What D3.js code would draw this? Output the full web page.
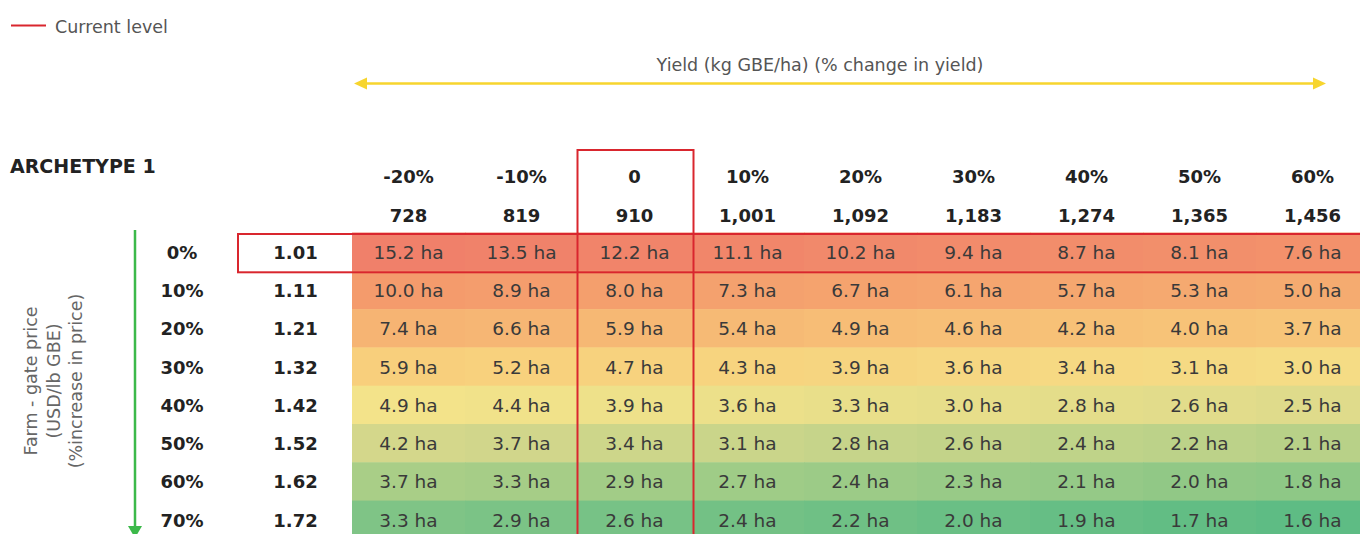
<!DOCTYPE html>
<html>
<head>
<meta charset="utf-8">
<script src="https://cdn.jsdelivr.net/npm/d3@7"></script>
<style>
  body { margin: 0; background: #fff; }
  svg { display: block; font-family: "DejaVu Sans", sans-serif; }
</style>
</head>
<body>
<svg></svg>
<script>
let width = 1360;
let height = 534;

// yield columns
let yieldPct = ['-20%', '-10%', '0', '10%', '20%', '30%', '40%', '50%', '60%'];
let yieldKg = [728, 819, 910, 1001, 1092, 1183, 1274, 1365, 1456];

// price rows
let pricePct = ['0%', '10%', '20%', '30%', '40%', '50%', '60%', '70%'];
let price = [1.01, 1.11, 1.21, 1.32, 1.42, 1.52, 1.62, 1.72];

// hectares needed
let area = [
  [15.2, 13.5, 12.2, 11.1, 10.2, 9.4, 8.7, 8.1, 7.6],
  [10.0, 8.9, 8.0, 7.3, 6.7, 6.1, 5.7, 5.3, 5.0],
  [7.4, 6.6, 5.9, 5.4, 4.9, 4.6, 4.2, 4.0, 3.7],
  [5.9, 5.2, 4.7, 4.3, 3.9, 3.6, 3.4, 3.1, 3.0],
  [4.9, 4.4, 3.9, 3.6, 3.3, 3.0, 2.8, 2.6, 2.5],
  [4.2, 3.7, 3.4, 3.1, 2.8, 2.6, 2.4, 2.2, 2.1],
  [3.7, 3.3, 2.9, 2.7, 2.4, 2.3, 2.1, 2.0, 1.8],
  [3.3, 2.9, 2.6, 2.4, 2.2, 2.0, 1.9, 1.7, 1.6]
];

let currentCol = 2;
let currentRow = 0;

let svg = d3.select('svg')
            .attr('width', width)
            .attr('height', height);

let x = d3.scaleBand()
          .domain(d3.range(yieldKg.length))
          .range([352, 352 + 113 * yieldKg.length]);

let y = d3.scaleBand()
          .domain(d3.range(price.length))
          .range([232.5, 232.5 + 38.3 * price.length]);

// colour by position in the grid (red -> yellow -> green)
let colorScale = d3.scaleLinear()
  .domain([0, 1, 2, 3, 4, 5, 6, 7, 7.7])
  .range(['#f0806a', '#f49b6c', '#f6b473', '#f8cf7c', '#f3e38a', '#d4d78b', '#a9ce87', '#7fc486', '#5bbb84'])
  .clamp(true);

let fmt = d3.format(',');

// legend
svg.append('line')
   .attr('x1', 11).attr('x2', 46)
   .attr('y1', 25.5).attr('y2', 25.5)
   .attr('stroke', '#d9262e')
   .attr('stroke-width', 2);
svg.append('text')
   .attr('x', 55).attr('y', 32.5)
   .attr('font-size', 17.5)
   .attr('fill', '#555')
   .text('Current level');

// yield arrow
svg.append('text')
   .attr('x', 820).attr('y', 71)
   .attr('text-anchor', 'middle')
   .attr('font-size', 17.5)
   .attr('fill', '#555')
   .text('Yield (kg GBE/ha) (% change in yield)');

let yellow = '#f7d52e';
svg.append('line')
   .attr('x1', 362).attr('x2', 1318)
   .attr('y1', 83.5).attr('y2', 83.5)
   .attr('stroke', yellow)
   .attr('stroke-width', 2.5);
svg.append('path')
   .attr('d', 'M354,83.5 L367,77.5 L367,89.5 Z')
   .attr('fill', yellow);
svg.append('path')
   .attr('d', 'M1326,83.5 L1313,77.5 L1313,89.5 Z')
   .attr('fill', yellow);

// title
svg.append('text')
   .attr('x', 10).attr('y', 173)
   .attr('font-size', 19)
   .attr('font-weight', 600)
   .attr('fill', '#222')
   .text('ARCHETYPE 1');

// column headers
svg.append('g')
   .selectAll('text')
   .data(yieldPct)
   .enter()
   .append('text')
   .attr('x', (d, i) => x(i) + x.bandwidth() / 2)
   .attr('y', 183)
   .attr('text-anchor', 'middle')
   .attr('font-size', 18)
   .attr('font-weight', 700)
   .attr('fill', '#222')
   .text(d => d);

svg.append('g')
   .selectAll('text')
   .data(yieldKg)
   .enter()
   .append('text')
   .attr('x', (d, i) => x(i) + x.bandwidth() / 2)
   .attr('y', 221.5)
   .attr('text-anchor', 'middle')
   .attr('font-size', 18)
   .attr('font-weight', 700)
   .attr('fill', '#222')
   .text(d => fmt(d));

// row headers
svg.append('g')
   .selectAll('text')
   .data(pricePct)
   .enter()
   .append('text')
   .attr('x', 182)
   .attr('y', (d, i) => y(i) + y.bandwidth() / 2 + 7)
   .attr('text-anchor', 'middle')
   .attr('font-size', 18)
   .attr('font-weight', 700)
   .attr('fill', '#222')
   .text(d => d);

svg.append('g')
   .selectAll('text')
   .data(price)
   .enter()
   .append('text')
   .attr('x', 295.5)
   .attr('y', (d, i) => y(i) + y.bandwidth() / 2 + 7)
   .attr('text-anchor', 'middle')
   .attr('font-size', 18)
   .attr('font-weight', 700)
   .attr('fill', '#222')
   .text(d => d.toFixed(2));

// cells
let cells = [];
area.forEach((row, r) => row.forEach((v, c) => cells.push({r: r, c: c, v: v})));

svg.append('g')
   .selectAll('rect')
   .data(cells)
   .enter()
   .append('rect')
   .attr('x', d => x(d.c))
   .attr('y', d => y(d.r))
   .attr('width', x.bandwidth() + 0.5)
   .attr('height', y.bandwidth() + 0.5)
   .attr('fill', d => colorScale(d.r + d.c * 0.08));

svg.append('g')
   .selectAll('text')
   .data(cells)
   .enter()
   .append('text')
   .attr('x', d => x(d.c) + x.bandwidth() / 2)
   .attr('y', d => y(d.r) + y.bandwidth() / 2 + 7)
   .attr('text-anchor', 'middle')
   .attr('font-size', 18.5)
   .attr('fill', '#3a3a3a')
   .text(d => d.v.toFixed(1) + ' ha');

// current level boxes
svg.append('rect')
   .attr('x', 238)
   .attr('y', y(currentRow) + 1.5)
   .attr('width', 1200)
   .attr('height', y.bandwidth())
   .attr('fill', 'none')
   .attr('stroke', '#d9262e')
   .attr('stroke-width', 2);

svg.append('rect')
   .attr('x', x(currentCol) - 0.5)
   .attr('y', 150)
   .attr('width', x.bandwidth() + 3)
   .attr('height', 420)
   .attr('fill', 'none')
   .attr('stroke', '#d9262e')
   .attr('stroke-width', 2);

// price arrow
let green = '#3cb94a';
svg.append('line')
   .attr('x1', 135).attr('x2', 135)
   .attr('y1', 230).attr('y2', 526)
   .attr('stroke', green)
   .attr('stroke-width', 2.5);
svg.append('path')
   .attr('d', 'M128,526 L142,526 L135,538 Z')
   .attr('fill', green);

// rotated axis label
let ylab = svg.append('text')
   .attr('transform', 'translate(37,381) rotate(-90)')
   .attr('text-anchor', 'middle')
   .attr('font-size', 17.5)
   .attr('fill', '#666');
['Farm - gate price', '(USD/lb GBE)', '(%increase in price)'].forEach((t, i) => {
  ylab.append('tspan')
      .attr('x', 0)
      .attr('y', i * 22.5)
      .text(t);
});
</script>
</body>
</html>
